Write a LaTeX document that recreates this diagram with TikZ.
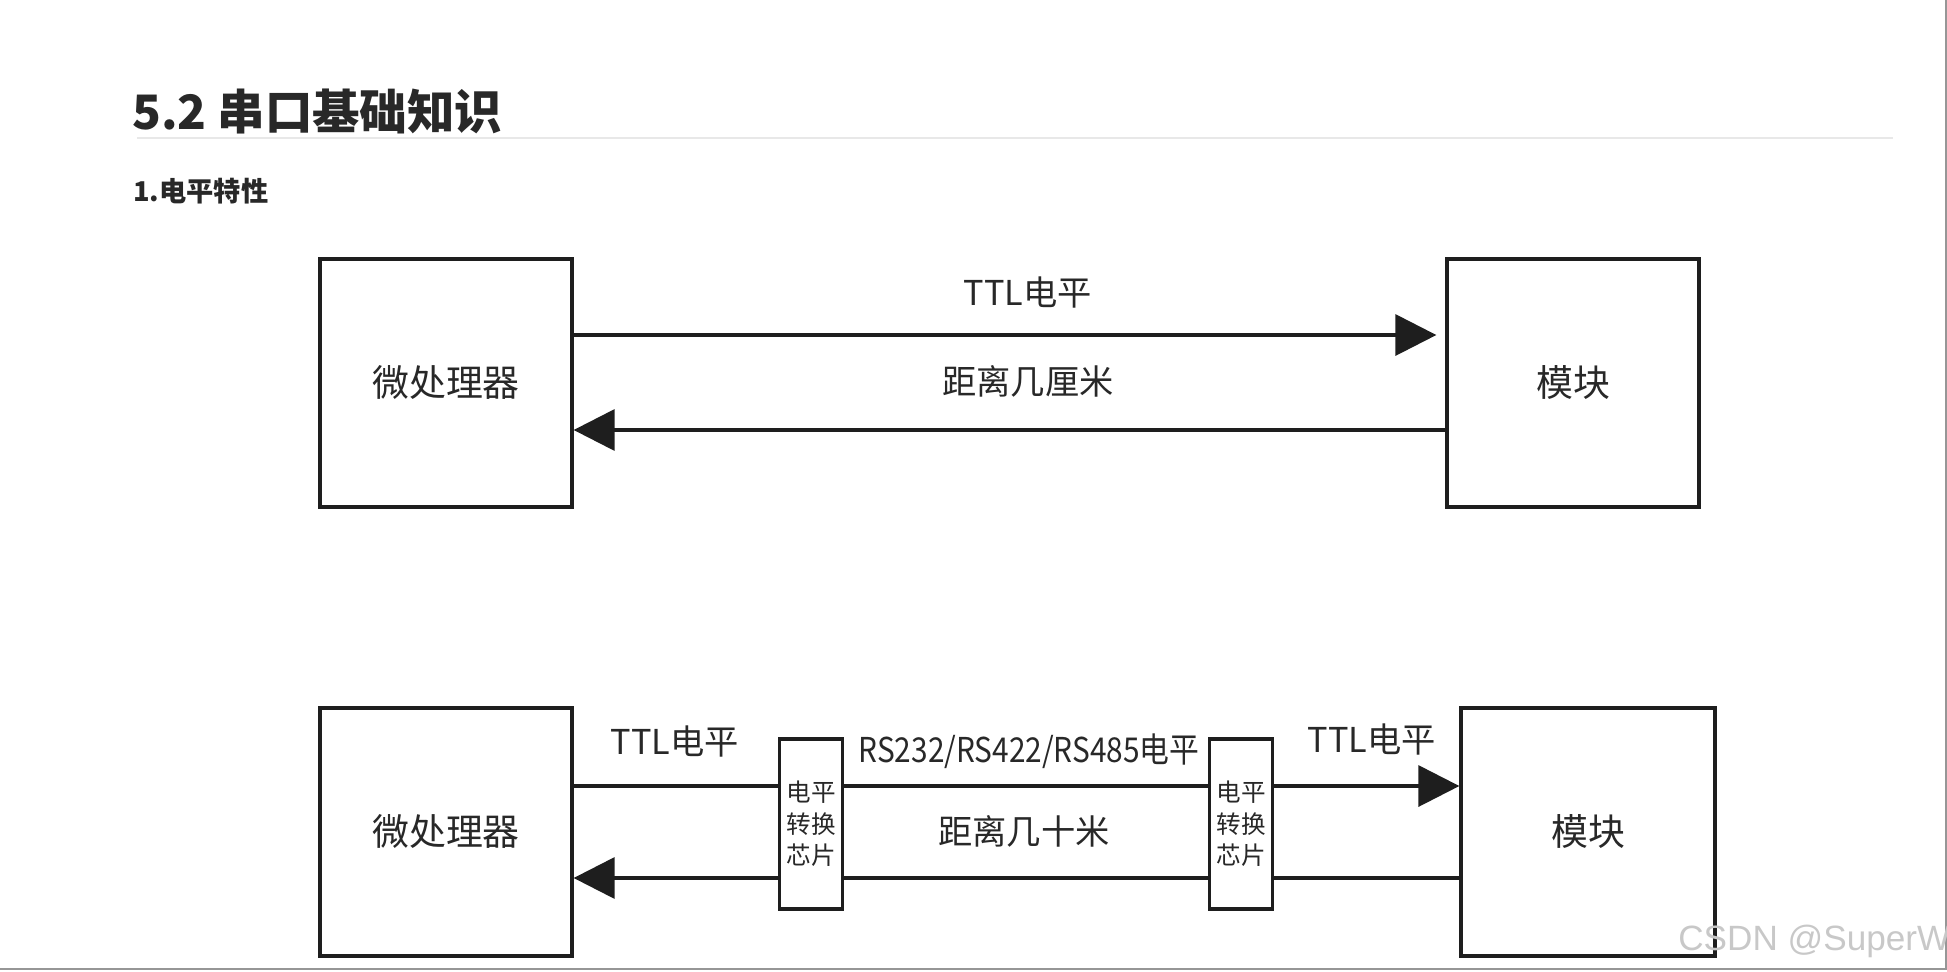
\documentclass[tikz,border=0pt]{standalone}
\usepackage{fontspec}
\setmainfont{Noto Sans CJK SC}
\newfontfamily\wmfont{Liberation Sans}
\usetikzlibrary{arrows.meta,positioning,calc}
\definecolor{ink}{RGB}{30,30,30}
\definecolor{txt}{RGB}{40,40,40}
\definecolor{rule}{RGB}{232,232,232}
\definecolor{frame}{RGB}{150,150,150}
\definecolor{mark}{RGB}{200,200,200}
\tikzset{
  box/.style={draw=ink,line width=1.9pt,fill=white,minimum width=5.04cm,
    minimum height=4.96cm,inner sep=0pt,text=txt,
    font=\fontsize{21}{25}\selectfont},
  chip/.style={draw=ink,line width=1.9pt,fill=white,minimum width=1.26cm,
    minimum height=3.4cm,inner sep=0pt,align=center,text=txt,
    font=\fontsize{14}{18}\selectfont},
  arr/.style={-{Triangle[length=0.82cm,width=0.82cm]},line width=1.9pt,ink},
  wire/.style={line width=1.9pt,ink},
  lbl/.style={font=\fontsize{19.5}{23}\selectfont,text=txt,inner sep=0pt},
}

\begin{document}
\begin{tikzpicture}[x=0.02cm,y=-0.02cm]
  \useasboundingbox (0,0) rectangle (1947,971);
  % heading
  \node[anchor=west,inner sep=0pt,text=txt,
    font=\fontsize{27}{32}\selectfont\bfseries] (title) at (132,111) {5.2 串口基础知识};
  \coordinate (ruleL) at (137,138);
  \coordinate (ruleR) at (1893,138);
  \draw[rule,line width=0.6pt] (ruleL) -- (ruleR);
  \node[anchor=west,inner sep=0pt,text=txt,
    font=\fontsize{15.5}{19}\selectfont\bfseries] (sub) at (133,191) {1.电平特性};

  % short link
  \node[box] (cpuA) at (446,383) {微处理器};
  \node[box] (modA) at (1573,383) {模块};
  \draw[arr,shorten >=0.18cm] ([yshift=0.96cm]cpuA.east) -- ([yshift=0.96cm]modA.west);
  \draw[arr] ([yshift=-0.94cm]modA.west) -- ([yshift=-0.94cm]cpuA.east);
  \node[lbl] (ttlA) at (1028,292) {TTL电平};
  \node[lbl] (distA) at (1028,381) {距离几厘米};

  % long link through level shifters
  \node[box] (cpuB) at (446,832) {微处理器};
  \node[box,minimum width=5.08cm] (modB) at (1588,832) {模块};
  \node[chip] (chipA) at (811,824) {电平\\转换\\芯片};
  \node[chip] (chipB) at (1241,824) {电平\\转换\\芯片};
  \coordinate (tB) at ([yshift=0.92cm]cpuB.east);
  \coordinate (bB) at ([yshift=-0.92cm]cpuB.east);
  \draw[wire] (tB) -- (chipA.west |- tB);
  \draw[wire] (chipA.east |- tB) -- (chipB.west |- tB);
  \draw[arr] (chipB.east |- tB) -- (modB.west |- tB);
  \draw[wire] (modB.west |- bB) -- (chipB.east |- bB);
  \draw[wire] (chipB.west |- bB) -- (chipA.east |- bB);
  \draw[arr] (chipA.west |- bB) -- (bB);
  \node[lbl] (ttlL) at (675,741) {TTL电平};
  \node[lbl] (ttlR) at (1372,739) {TTL电平};
  \node[lbl] (rs) at (1029,751) {\scalebox{0.87}[1]{RS232/RS422/RS485电平}};
  \node[lbl] (distB) at (1024,831) {距离几十米};

  % screenshot frame and watermark
  \coordinate (fBL) at (0,969);
  \coordinate (fBR) at (1946,969);
  \coordinate (fTR) at (1946,0);
  \draw[frame,line width=1.1pt] (fBL) -- (fBR) -- (fTR);
  \node[anchor=west,inner sep=0pt,text=mark,font=\wmfont\fontsize{20}{24}\selectfont]
    (wm) at (1678,941) {CSDN @SuperW};
\end{tikzpicture}
\end{document}
